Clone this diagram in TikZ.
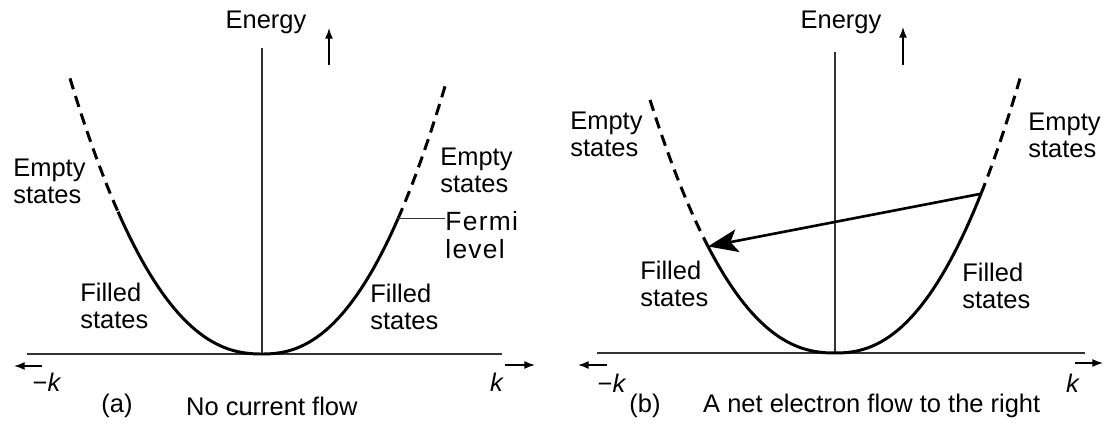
\documentclass[tikz,border=0pt]{standalone}
\usepackage{fontspec}
\setmainfont{Liberation Sans}
\newfontfamily\fermifont[LetterSpace=5]{Liberation Sans}
\usetikzlibrary{arrows.meta}

\tikzset{
  axisline/.style={line width=0.85pt, black!80},
  dirarrow/.style={line width=0.85pt, -{Latex[length=6pt,width=4.5pt]}},
  bandline/.style={line width=1.7pt},
  emptyband/.style={bandline, dash pattern=on 6.5pt off 4pt},
  statetxt/.style={anchor=west, align=left, inner sep=0pt},
  declare function={bandE(\k)=ifthenelse(\k<0,61.5,66.7)*(abs(\k)/100+0.00001)^2.3;}
}

\begin{document}
\begin{tikzpicture}[>=Latex, line join=round, x=0.02cm, y=-0.02cm,
  font=\fontsize{14.5}{15.5}\selectfont]

  \useasboundingbox (0,0) rectangle (1104,432);

  %--------------------------
  % (a) No current flow
  %--------------------------
  \begin{scope}[shift={(262,354)}]
    % Axes
    \draw[axisline] (-235,0) -- (240,0);
    \draw[axisline] (0,0) -- (0,-306);
    \draw[dirarrow] (-220,12) -- (-248,12);
    \draw[dirarrow] (243,11) -- (273,11);
    \draw[dirarrow] (67,-289) -- (67,-326);

    % Band
    \draw[emptyband] plot[domain=-192:-144, samples=20] ({\x},{-bandE(\x)});
    \draw[bandline] plot[domain=-144:136, samples=70] ({\x},{-bandE(\x)});
    \draw[emptyband] plot[domain=136:184, samples=20] ({\x},{-bandE(\x)});
    \coordinate (fermiA) at (136,{-bandE(136)});

    \node (enA) at (4,-332) {Energy};
    \node (mkA) at (-215,28) {−\textit{k}};
    \node (kA) at (235,28) {\textit{k}};

    \node[statetxt] (emptyLA) at (-249,-173) {Empty\\states};
    \node[statetxt] (filledLA) at (-182,-48) {Filled\\states};
    \node[statetxt] (emptyRA) at (178,-184) {Empty\\states};
    \node[statetxt] (filledRA) at (108,-47) {Filled\\states};
    \node[statetxt, font=\fontsize{15}{16}\fermifont] (fermiTxt) at (183,-119) {Fermi\\level};
    \draw[axisline] (fermiA) -- (fermiTxt.west |- fermiA);

    \node (capA) at (-145,52) {(a)};
    \node[anchor=west] (titleA) at (-82,52) {No current flow};
  \end{scope}

  %--------------------------
  % (b) Net electron flow
  %--------------------------
  \begin{scope}[shift={(835,353)}]
    % Axes
    \draw[axisline] (-238,0) -- (250,0);
    \draw[axisline] (0,0) -- (0,-301);
    \draw[dirarrow] (-228,12) -- (-257,12);
    \draw[dirarrow] (240,10) -- (268,10);
    \draw[dirarrow] (68,-288) -- (68,-326);

    % Band
    \draw[emptyband] plot[domain=-185:-127, samples=20] ({\x},{-bandE(\x)});
    \draw[bandline] plot[domain=-127:146, samples=70] ({\x},{-bandE(\x)});
    \draw[emptyband] plot[domain=146:185, samples=20] ({\x},{-bandE(\x)});
    \coordinate (topB) at (146,{-bandE(146)});
    \coordinate (lowB) at (-127,{-bandE(-127)});

    % Electron moved
    \draw[line width=1.5pt, -{Stealth[length=17pt,width=13pt,inset=4pt]}] (topB) -- (lowB);

    \node (enB) at (6,-331) {Energy};
    \node (mkB) at (-223,30) {−\textit{k}};
    \node (kB) at (238,30) {\textit{k}};

    \node[statetxt] (emptyLB) at (-265,-219) {Empty\\states};
    \node[statetxt] (filledLB) at (-195,-69) {Filled\\states};
    \node[statetxt] (emptyRB) at (193,-218) {Empty\\states};
    \node[statetxt] (filledRB) at (127,-67) {Filled\\states};

    \node (capB) at (-190,53) {(b)};
    \node[anchor=west] (titleB) at (-138,53) {A net electron flow to the right};
  \end{scope}

\end{tikzpicture}
\end{document}
